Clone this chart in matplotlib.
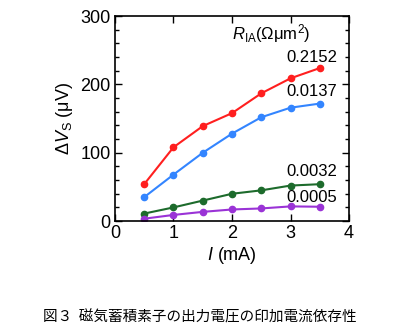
import matplotlib
matplotlib.use('Agg')
import matplotlib.pyplot as plt
from matplotlib.ticker import MultipleLocator

plt.rcParams['font.family'] = ['Liberation Sans', 'DejaVu Sans']
plt.rcParams['mathtext.fontset'] = 'custom'
plt.rcParams['mathtext.rm'] = 'Liberation Sans'
plt.rcParams['mathtext.it'] = 'Liberation Sans:italic'

# current (mA)
current = [0.5, 1.0, 1.5, 2.0, 2.5, 3.0, 3.5]
# delta V_S (uV) per R_IA
v_02152 = [54, 108, 139, 158, 187, 209, 224]
v_00137 = [35, 68, 100, 128, 152, 166, 172]
v_00032 = [11, 20, 30, 40, 45, 52, 54]
v_00005 = [3.5, 9, 13.5, 17, 18.5, 21.5, 21]
series_labels = ['0.2152', '0.0137', '0.0032', '0.0005']
label_y = [240, 189, 72, 34]
colors = ['#ff1f1f', '#3385ff', '#1d6b2c', '#9a33d6']

fig = plt.figure(figsize=(3.99, 3.36), dpi=100)
ax = fig.add_axes([0.288, 0.342, 0.587, 0.61])

for vals, c in zip([v_02152, v_00137, v_00032, v_00005], colors):
    ax.plot(current, vals, '-o', color=c, markersize=4.5, linewidth=1.5)

for lab, y in zip(series_labels, label_y):
    ax.text(3.8, y, lab, ha='right', va='center', fontsize=12)
ax.text(2.67, 275, r'$\mathit{R}_{\rm IA}$(Ωμm$^2$)', ha='center', va='center', fontsize=12)

ax.set_xlim(0, 4)
ax.set_ylim(0, 300)
ax.xaxis.set_major_locator(MultipleLocator(1))
ax.yaxis.set_major_locator(MultipleLocator(100))
ax.yaxis.set_minor_locator(MultipleLocator(20))
ax.tick_params(which='both', direction='in', top=True, right=True, labelsize=13, width=1)
ax.tick_params(which='major', length=5, pad=3)
ax.tick_params(which='minor', length=3)
for s in ax.spines.values():
    s.set_linewidth(1.2)

ax.set_ylabel(r'$\mathit{ΔV}_{\rm S}$ (μV)', fontsize=13, labelpad=4)
ax.set_xlabel(r'$\mathit{I}$ (mA)', fontsize=13, labelpad=2)

fig.text(0.5, 0.056, '図３  磁気蓄積素子の出力電圧の印加電流依存性', ha='center', va='center',
         fontsize=10.5, family=['Noto Sans CJK JP', 'DejaVu Sans'])

fig.savefig('out.png', dpi=100)
